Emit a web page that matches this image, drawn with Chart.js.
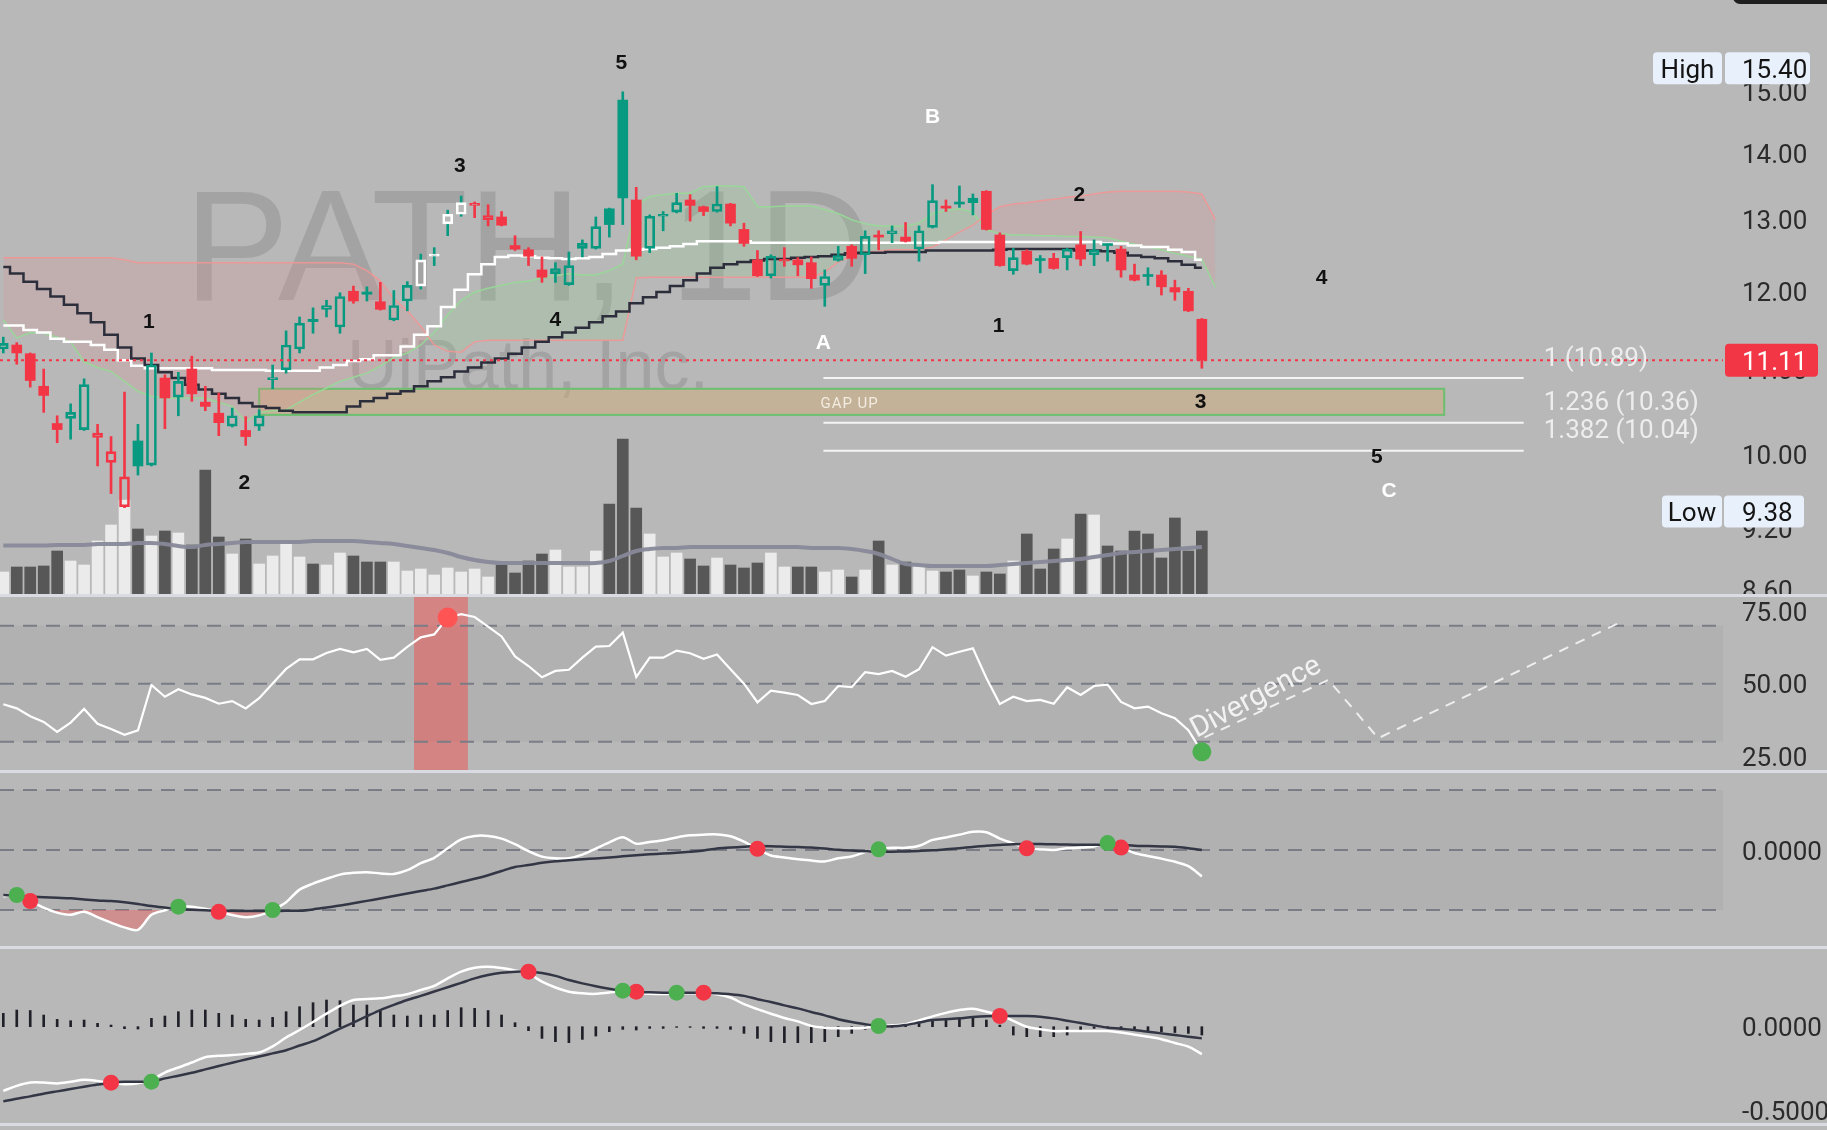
<!DOCTYPE html>
<html><head><meta charset="utf-8"><title>PATH, 1D</title>
<script src="https://cdn.jsdelivr.net/npm/chart.js@4.4.1/dist/chart.umd.min.js"></script>
<style>
html,body{margin:0;padding:0;background:#b8b8b8;}
body{width:1827px;height:1130px;position:relative;overflow:hidden;}
canvas{position:absolute;left:0;display:block;}
.sep{position:absolute;left:0;width:1827px;height:3px;background:#d9dae2;}
#corner{position:absolute;left:1733px;top:-20px;width:110px;height:24px;border-radius:7px;background:#1f1f1f;}
</style></head><body>
<canvas id="cMain" width="1827" height="594" style="top:0"></canvas>
<div class="sep" style="top:594px"></div>
<canvas id="cRsi" width="1827" height="173" style="top:597px"></canvas>
<div class="sep" style="top:770px"></div>
<canvas id="cOsc" width="1827" height="173" style="top:773px"></canvas>
<div class="sep" style="top:946px"></div>
<canvas id="cMacd" width="1827" height="174" style="top:949px"></canvas>
<div class="sep" style="top:1123px"></div>
<div id="corner"></div>
<script>
// ---------------- DATA ----------------
const opens = [11.25,11.30,11.19,10.79,10.35,10.41,10.28,10.19,9.91,9.43,
 10.15,9.88,10.89,10.66,11.00,10.60,10.47,10.32,10.27,10.32,
 10.87,10.99,11.25,11.63,11.76,11.53,12.00,11.99,11.86,11.62,
 11.87,12.07,12.48,12.94,13.08,13.21,13.00,13.04,12.63,12.57,
 12.29,12.24,12.09,12.59,12.59,13.16,14.86,13.29,12.59,13.05,
 13.11,13.29,13.19,13.12,13.23,12.86,12.43,12.21,12.41,12.43,
 12.39,12.08,12.42,12.62,12.50,12.77,12.80,12.75,12.58,12.89,
 13.19,13.25,13.25,13.42,12.78,12.28,12.55,12.44,12.45,12.46,
 12.64,12.50,12.65,12.58,12.22,12.22,12.22,12.05,12.00,11.63];
const highs = [11.40,11.33,11.20,11.00,10.44,10.58,10.88,10.34,10.20,10.72,
 10.34,11.20,10.93,10.96,11.16,10.79,10.71,10.53,10.43,10.51,
 11.05,11.48,11.66,11.78,11.88,11.98,12.07,12.06,12.12,12.01,
 12.13,12.51,12.60,13.14,13.35,13.26,13.22,13.12,12.77,12.60,
 12.47,12.39,12.54,12.71,13.04,13.17,15.00,13.48,13.07,13.12,
 13.39,13.37,13.20,13.49,13.24,12.95,12.56,12.50,12.60,12.46,
 12.47,12.29,12.62,12.64,12.84,12.84,12.91,12.96,12.91,13.52,
 13.29,13.50,13.38,13.43,12.81,12.59,12.57,12.49,12.52,12.59,
 12.83,12.71,12.65,12.62,12.37,12.32,12.28,12.15,12.04,11.64];
const lows = [11.20,11.06,10.78,10.48,10.13,10.17,10.27,9.87,9.57,9.42,
 9.77,9.87,10.29,10.44,10.61,10.50,10.21,10.31,10.10,10.27,
 10.76,10.95,11.20,11.45,11.66,11.45,11.84,11.87,11.75,11.61,
 11.74,12.03,12.35,12.77,13.05,13.03,12.91,12.91,12.56,12.35,
 12.12,12.12,12.08,12.47,12.58,12.75,12.93,12.43,12.53,12.84,
 13.10,12.98,13.06,13.11,12.91,12.62,12.20,12.18,12.34,12.21,
 12.04,11.80,12.41,12.34,12.24,12.57,12.67,12.68,12.41,12.88,
 13.12,13.18,13.07,12.85,12.34,12.23,12.36,12.25,12.30,12.29,
 12.35,12.35,12.41,12.19,12.14,12.08,11.95,11.88,11.73,11.01];
const closes = [11.32,11.20,10.86,10.68,10.28,10.48,10.81,10.24,10.03,9.75,
 9.87,11.05,10.65,10.85,10.70,10.55,10.36,10.44,10.20,10.44,
 10.89,11.30,11.58,11.60,11.81,11.93,11.87,11.96,11.76,11.81,
 12.08,12.43,12.51,13.08,13.25,13.23,13.06,12.92,12.58,12.48,
 12.19,12.31,12.35,12.66,12.90,12.93,13.32,12.48,13.05,13.07,
 13.25,13.21,13.12,13.23,12.95,12.66,12.21,12.48,12.43,12.36,
 12.17,12.20,12.49,12.45,12.76,12.75,12.84,12.69,12.84,13.28,
 13.17,13.23,13.32,12.86,12.35,12.46,12.37,12.42,12.31,12.58,
 12.44,12.57,12.63,12.29,12.15,12.20,12.06,11.99,11.74,11.11];
const volumes = [2.2,2.7,2.7,2.8,4.3,3.3,2.9,5.3,6.9,9.4,
 6.5,5.8,6.3,6.1,4.9,12.4,5.7,4.0,5.5,3.0,
 3.8,5.1,3.7,3.0,2.9,4.1,3.8,3.2,3.2,3.2,
 2.3,2.5,1.9,2.6,2.2,2.5,1.7,2.9,2.1,3.3,
 4.0,4.4,2.7,2.7,4.3,9.0,15.5,8.6,6.0,3.7,
 4.1,3.5,2.8,3.6,2.9,2.6,3.1,4.1,2.7,2.7,
 2.7,2.2,2.4,1.7,2.4,5.3,2.9,3.2,2.8,2.3,
 2.2,2.4,1.8,2.2,2.0,3.3,6.0,2.5,4.5,5.5,
 8.0,7.9,4.8,4.3,6.3,6.0,3.6,7.6,4.3,6.3];
const volumeMA = [4.85,4.85,4.85,4.85,4.9,4.9,4.9,5.0,5.0,5.0,
 5.1,5.1,5.0,4.8,4.7,4.9,5.0,5.1,5.2,5.2,
 5.2,5.2,5.2,5.3,5.3,5.3,5.3,5.2,5.1,5.0,
 4.8,4.6,4.4,4.1,3.7,3.4,3.2,3.1,3.1,3.1,
 3.1,3.1,3.1,3.1,3.1,3.3,3.8,4.3,4.5,4.6,
 4.6,4.7,4.7,4.7,4.7,4.7,4.7,4.7,4.7,4.7,
 4.6,4.6,4.6,4.5,4.3,4.0,3.5,3.0,2.9,2.8,
 2.8,2.8,2.8,2.8,2.9,3.0,3.1,3.2,3.3,3.4,
 3.5,3.7,3.9,4.1,4.2,4.3,4.4,4.5,4.6,4.7];
const spanA = [11.62,11.39,11.46,11.45,11.40,11.34,11.09,11.02,10.97,10.85,
 10.73,10.67,10.65,10.65,10.65,10.65,10.60,10.55,10.37,10.48,
 10.50,10.51,10.60,10.69,10.77,10.85,10.90,10.95,11.04,11.14,
 11.20,11.30,11.46,11.69,11.88,11.99,12.04,12.08,12.12,12.14,
 12.18,12.21,12.24,12.22,12.22,12.28,12.37,13.22,13.34,13.37,
 13.39,13.39,13.49,13.50,13.50,13.49,13.19,13.19,13.20,13.20,
 13.20,13.15,13.09,13.00,12.94,12.91,12.91,12.91,12.95,13.09,
 13.14,13.16,13.11,12.85,12.80,12.78,12.78,12.77,12.77,12.76,
 12.76,12.75,12.74,12.69,12.65,12.61,12.57,12.52,12.48,12.44,
 12.06];
const spanB = [12.46,12.46,12.46,12.46,12.46,12.46,12.46,12.46,12.46,12.43,
 12.39,12.39,12.39,12.39,12.39,12.39,12.39,12.39,12.39,12.39,
 12.39,12.39,12.39,12.39,12.39,12.39,12.37,12.28,12.14,11.90,
 11.74,11.54,11.30,11.22,11.21,11.34,11.36,11.36,11.36,11.36,
 11.36,11.36,11.36,11.36,11.36,11.36,11.36,12.18,12.19,12.19,
 12.19,12.19,12.19,12.19,12.19,12.19,12.19,12.19,12.19,12.19,
 12.19,12.26,12.40,12.48,12.54,12.55,12.57,12.57,12.57,12.61,
 12.71,12.82,12.92,13.07,13.19,13.23,13.25,13.28,13.30,13.33,
 13.35,13.38,13.41,13.42,13.42,13.42,13.42,13.42,13.41,13.38,
 13.00];
const tenkan = [11.55,11.55,11.49,11.46,11.38,11.34,11.34,11.30,11.24,11.11,
 11.04,11.01,11.01,11.01,11.01,11.01,10.99,10.99,10.99,10.99,
 10.98,10.98,10.98,10.98,11.02,11.05,11.10,11.12,11.17,11.17,
 11.28,11.43,11.54,11.79,12.02,12.23,12.37,12.47,12.49,12.48,
 12.46,12.45,12.44,12.45,12.47,12.51,12.56,12.57,12.58,12.60,
 12.62,12.65,12.69,12.69,12.69,12.69,12.67,12.67,12.67,12.67,
 12.67,12.67,12.67,12.67,12.67,12.67,12.67,12.67,12.67,12.67,
 12.68,12.68,12.68,12.68,12.68,12.68,12.68,12.68,12.68,12.68,
 12.68,12.68,12.66,12.66,12.63,12.61,12.61,12.57,12.54,12.43];
const kijun = [12.33,12.24,12.13,12.03,11.93,11.82,11.71,11.59,11.43,11.27,
 11.13,11.05,10.96,10.89,10.81,10.75,10.70,10.65,10.59,10.55,
 10.53,10.50,10.48,10.48,10.48,10.48,10.55,10.61,10.65,10.70,
 10.73,10.79,10.85,10.90,10.97,11.02,11.08,11.13,11.19,11.27,
 11.34,11.40,11.46,11.52,11.59,11.67,11.73,11.84,11.92,11.99,
 12.07,12.15,12.24,12.32,12.37,12.40,12.42,12.44,12.44,12.46,
 12.47,12.48,12.50,12.52,12.53,12.53,12.54,12.54,12.54,12.56,
 12.56,12.56,12.56,12.56,12.57,12.58,12.58,12.58,12.58,12.58,
 12.56,12.56,12.55,12.53,12.49,12.47,12.45,12.41,12.36,12.32];
const whiteCandles = [31,32,33,34];
const priceTicks = [8.6,9.2,10,11,12,13,14,15];
const rangeHigh = 15.40, rangeLow = 9.38;
const gapHigh = 10.76, gapLow = 10.45;
const fibRatios = ['1','1.236','1.382'];
const fibLevels = [10.89,10.36,10.04];
const waveLabels = [
 ['1',10.8,11.63],['2',17.9,9.71],['3',33.9,13.84],['4',41.0,11.65],['5',45.9,15.53],
 ['A',60.9,11.35],['B',69.0,14.62],['1',73.9,11.57],['2',79.9,13.40],['3',88.9,10.63],
 ['4',97.9,12.21],['5',102.0,9.99],['C',102.9,9.62]];

const rsi = [42.9,41.5,38.8,36.8,33.4,36.6,41.3,36.2,34.4,32.4,
 33.9,49.6,45.5,48.1,46.3,45.1,43.1,44.0,41.5,45.0,
 50.1,55.1,58.4,58.4,60.6,62.0,60.8,62.0,58.2,59.0,
 62.7,66.0,67.0,72.8,74.0,73.0,69.7,66.3,59.4,56.1,
 52.2,54.4,54.8,59.0,62.8,63.0,67.6,52.3,59.0,59.0,
 61.4,60.5,58.6,60.1,55.0,50.0,43.6,47.6,46.9,46.1,
 43.0,44.0,49.2,48.8,54.0,53.3,54.4,52.4,55.0,62.6,
 59.7,61.0,62.2,52.0,43.0,45.5,44.0,44.4,43.1,48.8,
 46.1,49.2,49.7,43.7,41.5,42.1,39.8,38.1,34.0,26.5];
const rsiTicks = [25,50,75];
const rsiLevels = [30,50,70];
const rsiZone = [31,34];
const rsiSellIdx = [33];
const rsiBuyIdx = [89];
const divX = [89.2,98.4,102.1,119.9];
const divY = [31.5,51.3,31.2,70.8];

const oscFast = [-0.386,-0.375,-0.425,-0.48,-0.522,-0.54,-0.515,-0.56,-0.605,-0.645,
 -0.665,-0.54,-0.502,-0.472,-0.472,-0.49,-0.515,-0.542,-0.56,-0.545,
 -0.5,-0.435,-0.33,-0.28,-0.24,-0.205,-0.19,-0.185,-0.195,-0.2,
 -0.168,-0.11,-0.065,0.014,0.088,0.117,0.117,0.095,0.048,-0.01,
 -0.055,-0.069,-0.068,-0.038,0.012,0.063,0.106,0.052,0.067,0.082,
 0.105,0.122,0.128,0.13,0.115,0.07,0.01,-0.046,-0.062,-0.078,
 -0.088,-0.095,-0.069,-0.054,-0.018,0.006,0.018,0.018,0.035,0.084,
 0.105,0.128,0.152,0.148,0.095,0.055,0.014,0.005,0.0,0.014,
 0.02,0.03,0.058,0.02,-0.025,-0.05,-0.072,-0.098,-0.135,-0.22];
const oscSlow = [-0.376,-0.38,-0.389,-0.393,-0.398,-0.403,-0.412,-0.42,-0.426,-0.436,
 -0.45,-0.467,-0.48,-0.492,-0.498,-0.502,-0.506,-0.507,-0.508,-0.508,
 -0.508,-0.507,-0.506,-0.495,-0.479,-0.463,-0.444,-0.424,-0.404,-0.384,
 -0.363,-0.342,-0.322,-0.295,-0.267,-0.24,-0.21,-0.175,-0.142,-0.125,
 -0.107,-0.094,-0.085,-0.077,-0.07,-0.062,-0.053,-0.044,-0.036,-0.03,
 -0.023,-0.014,-0.004,0.013,0.02,0.027,0.033,0.032,0.028,0.024,
 0.02,0.012,0.002,-0.005,-0.01,-0.014,-0.014,-0.012,-0.008,-0.003,
 0.006,0.015,0.025,0.035,0.042,0.048,0.05,0.049,0.047,0.045,
 0.043,0.043,0.045,0.044,0.036,0.033,0.03,0.027,0.015,0.0];
const oscTicks = [0];
const oscLevels = [0.5,0,-0.5];
const oscBuyIdx = [1,13,20,65,82];
const oscSellIdx = [2,16,56,76,83];

const macd = [-0.385,-0.355,-0.335,-0.335,-0.34,-0.33,-0.318,-0.325,-0.338,-0.345,
 -0.34,-0.318,-0.275,-0.245,-0.215,-0.183,-0.175,-0.17,-0.163,-0.155,
 -0.118,-0.065,-0.02,0.028,0.078,0.125,0.16,0.166,0.17,0.182,
 0.195,0.22,0.245,0.29,0.33,0.354,0.36,0.352,0.338,0.318,
 0.27,0.235,0.21,0.2,0.197,0.205,0.212,0.204,0.198,0.196,
 0.2,0.2,0.2,0.194,0.175,0.135,0.105,0.078,0.052,0.032,
 0.005,-0.006,-0.01,-0.01,-0.006,0.004,0.008,0.015,0.038,0.062,
 0.083,0.1,0.108,0.09,0.07,0.035,0.0,-0.015,-0.026,-0.026,
 -0.026,-0.026,-0.026,-0.035,-0.048,-0.06,-0.075,-0.098,-0.12,-0.164];
const signal = [-0.448,-0.432,-0.418,-0.402,-0.388,-0.374,-0.36,-0.347,-0.336,-0.33,
 -0.33,-0.33,-0.31,-0.294,-0.276,-0.256,-0.236,-0.216,-0.197,-0.179,
 -0.16,-0.141,-0.113,-0.087,-0.05,-0.012,0.025,0.063,0.1,0.131,
 0.16,0.185,0.211,0.237,0.263,0.29,0.31,0.323,0.33,0.33,
 0.322,0.305,0.28,0.26,0.243,0.228,0.216,0.21,0.206,0.204,
 0.204,0.204,0.204,0.2,0.195,0.185,0.165,0.148,0.128,0.11,
 0.088,0.068,0.045,0.028,0.015,0.004,0.002,0.01,0.025,0.04,
 0.044,0.05,0.058,0.063,0.064,0.064,0.064,0.06,0.05,0.036,
 0.022,0.008,-0.006,-0.012,-0.02,-0.03,-0.04,-0.05,-0.06,-0.07];
const hist = [0.08,0.1,0.097,0.07,0.044,0.036,0.04,0.02,0.01,-0.012,
 -0.014,0.05,0.064,0.09,0.1,0.1,0.08,0.07,0.044,0.04,
 0.056,0.09,0.12,0.144,0.16,0.156,0.13,0.13,0.1,0.07,
 0.064,0.07,0.07,0.097,0.114,0.11,0.097,0.07,0.024,-0.024,
 -0.07,-0.09,-0.096,-0.076,-0.056,-0.03,-0.016,-0.02,-0.01,-0.01,
 -0.004,-0.004,-0.01,-0.01,-0.016,-0.04,-0.07,-0.09,-0.096,-0.096,
 -0.096,-0.09,-0.06,-0.04,-0.016,-0.01,-0.004,0.01,0.02,0.04,
 0.047,0.05,0.053,0.04,0.01,-0.05,-0.06,-0.06,-0.06,-0.05,
 -0.02,-0.01,-0.004,-0.016,-0.024,-0.03,-0.03,-0.035,-0.04,-0.05];
const macdTicks = [0,-0.5];
const macdBuyIdx = [11,46,50,65];
const macdSellIdx = [8,39,47,52,74];

// ---------------- SETUP ----------------
Chart.defaults.font.family = 'Roboto';
const N = closes.length;
const idx = [...Array(N).keys()];
const TEAL = '#089981', RED = '#f23645', GREEN_DOT = '#4caf50';
const X_MIN = -0.245, X_MAX = 127.7;
const TXT_DY = 3; // visual centring of canvas text
const AX_FONT = 26;
const pts = (arr) => arr.map((v,i)=>({x:i,y:v}));

const candleColor = idx.map(i => (i===0 ? closes[i]>=opens[i] : closes[i]>=closes[i-1]) ? TEAL : RED);
const filled = idx.map(i => closes[i] < opens[i]);
const bodyStroke = idx.map(i => whiteCandles.includes(i) ? '#ffffff' : candleColor[i]);
const bodyFill = idx.map(i => filled[i] ? bodyStroke[i] : 'rgba(0,0,0,0)');
const bodyBW = idx.map(i => filled[i] ? 0 : 2);
const volColor = idx.map(i => filled[i] ? '#575757' : '#ebebeb');

function xScale(){ return {type:'linear', min:X_MIN, max:X_MAX, offset:false, display:false, bounds:'data'}; }
function rightAxis(type, min, max, ticks, digits){
  return {type, position:'right', min, max, bounds:'data',
    grid:{display:false, drawTicks:false}, border:{display:false},
    ticks:{color:'#2b2b2b', font:{family:'Roboto', size:AX_FONT}, padding:19, autoSkip:false, labelOffset:TXT_DY,
      callback:(v)=>Number(v).toFixed(digits)},
    afterBuildTicks:(s)=>{ s.ticks = ticks.map(v=>({value:v})); },
    afterFit:(s)=>{ s.width = 104; s.paddingTop=0; s.paddingBottom=0; s.paddingLeft=0; s.paddingRight=0; }};
}
function baseOptions(scales){
  return {responsive:false, animation:false, devicePixelRatio:1, events:[],
    layout:{padding:0, autoPadding:false}, scales,
    plugins:{legend:{display:false}, tooltip:{enabled:false}}};
}
function dashedLines(ctx, a, ys){
  ctx.save(); ctx.setLineDash([14,9]); ctx.strokeStyle='#7a7c86'; ctx.lineWidth=2;
  ys.forEach(yy=>{ ctx.beginPath(); ctx.moveTo(a.left,yy); ctx.lineTo(a.right,yy); ctx.stroke(); });
  ctx.restore();
}
function rr(ctx,x,y,w,h,r){ctx.beginPath();ctx.moveTo(x+r,y);ctx.arcTo(x+w,y,x+w,y+h,r);ctx.arcTo(x+w,y+h,x,y+h,r);ctx.arcTo(x,y+h,x,y,r);ctx.arcTo(x,y,x+w,y,r);ctx.closePath();}
function tag(ctx, lx0, lx1, vx0, vx1, cy, label, value){
  const h=32;
  ctx.fillStyle='#e8f0fb';
  rr(ctx,lx0,cy-h/2,lx1-lx0,h,4); ctx.fill();
  rr(ctx,vx0,cy-h/2,vx1-vx0,h,4); ctx.fill();
  ctx.fillStyle='#141414'; ctx.font=AX_FONT+'px Roboto'; ctx.textBaseline='middle';
  ctx.textAlign='center'; ctx.fillText(label,(lx0+lx1)/2,cy+TXT_DY);
  ctx.textAlign='left'; ctx.fillText(value,1742,cy+TXT_DY);
}

// ---------------- MAIN PRICE CHART ----------------
const fibStart = 60.9, fibEnd = 112.9, gapStart = 19.0, gapEnd = 107.0;
const mainDecor = {
  id:'mainDecor',
  beforeDatasetsDraw(chart){
    const {ctx, chartArea:a, scales:{x,y}} = chart;
    ctx.save();
    ctx.fillStyle='rgba(110,110,110,0.28)';
    ctx.textAlign='left'; ctx.textBaseline='alphabetic';
    ctx.font='158px "Liberation Sans", Arial, sans-serif';
    ctx.fillText('PATH, 1D', 184, 300);
    ctx.font='70px "Liberation Sans", Arial, sans-serif';
    ctx.fillText('UiPath, Inc.', 347, 389);
    const gx0=x.getPixelForValue(gapStart), gx1=x.getPixelForValue(gapEnd);
    const gy0=y.getPixelForValue(gapHigh), gy1=y.getPixelForValue(gapLow);
    ctx.fillStyle='rgba(205,172,120,0.5)'; ctx.fillRect(gx0,gy0,gx1-gx0,gy1-gy0);
    ctx.strokeStyle='#6cbf6f'; ctx.lineWidth=2; ctx.strokeRect(gx0,gy0,gx1-gx0,gy1-gy0);
    ctx.fillStyle='#f3ece0'; ctx.font='15px Roboto'; ctx.textBaseline='middle';
    try{ ctx.letterSpacing='1px'; }catch(e){}
    ctx.fillText('GAP UP', x.getPixelForValue(fibStart)-3, (gy0+gy1)/2+2);
    ctx.restore();
  },
  afterDatasetsDraw(chart){
    const {ctx, chartArea:a, scales:{x,y}} = chart;
    ctx.save();
    const last = closes[N-1];
    const ly = y.getPixelForValue(last);
    ctx.setLineDash([3,4]); ctx.strokeStyle=RED; ctx.lineWidth=2;
    ctx.beginPath(); ctx.moveTo(a.left,ly); ctx.lineTo(a.right,ly); ctx.stroke();
    ctx.setLineDash([]);
    const fx0=x.getPixelForValue(fibStart), fx1=x.getPixelForValue(fibEnd);
    fibLevels.forEach((lv,k)=>{
      const fy=y.getPixelForValue(lv);
      ctx.strokeStyle='#f4f4f4'; ctx.lineWidth=2;
      ctx.beginPath(); ctx.moveTo(fx0,fy); ctx.lineTo(fx1,fy); ctx.stroke();
      ctx.fillStyle='#ededed'; ctx.font='26px Roboto'; ctx.textAlign='left'; ctx.textBaseline='middle';
      ctx.fillText(fibRatios[k]+' ('+lv.toFixed(2)+')', fx1+20, fy-22+TXT_DY);
    });
    ctx.font='bold 21px "Liberation Sans", Arial, sans-serif'; ctx.textAlign='center'; ctx.textBaseline='middle';
    waveLabels.forEach(([t,i,p])=>{
      ctx.fillStyle = /[A-Z]/.test(t) ? '#ffffff' : '#111111';
      ctx.fillText(t, x.getPixelForValue(i), y.getPixelForValue(p)+2.5);
    });
    ctx.restore();
  },
  afterDraw(chart){
    const {ctx, scales:{y}} = chart;
    ctx.save();
    tag(ctx,1653,1722,1725,1810,y.getPixelForValue(rangeHigh),'High',rangeHigh.toFixed(2));
    tag(ctx,1662,1722,1724,1804,y.getPixelForValue(rangeLow),'Low',rangeLow.toFixed(2));
    const cy=y.getPixelForValue(closes[N-1]);
    ctx.fillStyle=RED; rr(ctx,1725,cy-16.5,93,33,4); ctx.fill();
    ctx.fillStyle='#ffffff'; ctx.font=AX_FONT+'px Roboto'; ctx.textAlign='left'; ctx.textBaseline='middle';
    ctx.fillText(closes[N-1].toFixed(2),1742,cy+TXT_DY);
    ctx.restore();
  }
};

new Chart(document.getElementById('cMain'), {
  type:'line',
  data:{datasets:[
    {type:'bar', yAxisID:'yv', data:pts(volumes), backgroundColor:volColor, barThickness:11, grouped:false, order:20, borderWidth:0},
    {type:'line', yAxisID:'yv', data:pts(volumeMA), borderColor:'rgba(136,137,153,0.95)', borderWidth:4, pointRadius:0, tension:0.4, order:19},
    {type:'line', yAxisID:'y', data:pts(spanA), borderColor:'rgba(150,218,150,0.9)', borderWidth:1.5, pointRadius:0,
      fill:{target:'+1', above:'rgba(140,210,140,0.2)', below:'rgba(230,140,140,0.2)'}, order:15},
    {type:'line', yAxisID:'y', data:pts(spanB), borderColor:'rgba(242,150,150,0.9)', borderWidth:1.5, pointRadius:0, order:14},
    {type:'line', yAxisID:'y', data:pts(tenkan), borderColor:'#ffffff', borderWidth:2.5, pointRadius:0, stepped:'middle', order:10},
    {type:'line', yAxisID:'y', data:pts(kijun), borderColor:'#2c2f3b', borderWidth:2.5, pointRadius:0, stepped:'middle', order:9},
    {type:'bar', yAxisID:'y', data:idx.map(i=>({x:i,y:[lows[i],Math.min(opens[i],closes[i])]})), backgroundColor:candleColor, barThickness:2, grouped:false, order:3, borderWidth:0},
    {type:'bar', yAxisID:'y', data:idx.map(i=>({x:i,y:[Math.max(opens[i],closes[i]),highs[i]]})), backgroundColor:candleColor, barThickness:2, grouped:false, order:3, borderWidth:0},
    {type:'bar', yAxisID:'y', data:idx.map(i=>({x:i,y:[opens[i],closes[i]]})), backgroundColor:bodyFill, borderColor:bodyStroke, borderWidth:bodyBW,
      borderSkipped:false, barThickness:10, minBarLength:2, grouped:false, order:2}
  ]},
  options:baseOptions({
    x:xScale(),
    y:rightAxis('logarithmic', 8.553, 16.622, priceTicks, 2),
    yv:{type:'linear', display:false, min:0, max:59.4}
  }),
  plugins:[mainDecor]
});

// ---------------- RSI ----------------
const rsiDecor = {
  id:'rsiDecor',
  beforeDatasetsDraw(chart){
    const {ctx, chartArea:a, scales:{x,y}} = chart;
    ctx.save();
    const yt=y.getPixelForValue(rsiLevels[2]), yb=y.getPixelForValue(rsiLevels[0]);
    ctx.fillStyle='rgba(90,90,100,0.07)'; ctx.fillRect(a.left,yt,a.right-a.left,yb-yt);
    const zx0=x.getPixelForValue(rsiZone[0]-0.5), zx1=x.getPixelForValue(rsiZone[1]+0.5);
    ctx.fillStyle='rgba(242,80,80,0.5)'; ctx.fillRect(zx0,a.top,zx1-zx0,a.bottom-a.top);
    ctx.restore();
    dashedLines(ctx,a,rsiLevels.map(v=>y.getPixelForValue(v)));
  },
  afterDatasetsDraw(chart){
    const {ctx, scales:{x,y}} = chart;
    ctx.save();
    ctx.translate(x.getPixelForValue(88.6), y.getPixelForValue(31.3));
    ctx.rotate(-28*Math.PI/180);
    ctx.fillStyle='#f2f2f2'; ctx.font='29px Roboto'; ctx.textAlign='left'; ctx.textBaseline='alphabetic';
    ctx.fillText('Divergence',0,0);
    ctx.restore();
  }
};
new Chart(document.getElementById('cRsi'), {
  type:'line',
  data:{datasets:[
    {data:pts(rsi), borderColor:'#ffffff', borderWidth:2.2, pointRadius:0, tension:0, order:3},
    {data:divX.map((v,k)=>({x:v,y:divY[k]})), borderColor:'#eeeeee', borderWidth:2, borderDash:[10,8], pointRadius:0, order:4},
    {data:rsiSellIdx.map(i=>({x:i,y:rsi[i]})), showLine:false, pointRadius:10, pointBackgroundColor:'#ff5454', pointBorderWidth:0, order:1},
    {data:rsiBuyIdx.map(i=>({x:i,y:rsi[i]})), showLine:false, pointRadius:9.5, pointBackgroundColor:GREEN_DOT, pointBorderWidth:0, order:1}
  ]},
  options:baseOptions({x:xScale(), y:rightAxis('linear', 20.24, 79.9, rsiTicks, 2)}),
  plugins:[rsiDecor]
});

// ---------------- OSCILLATOR ----------------
const oscDecor = {
  id:'oscDecor',
  beforeDatasetsDraw(chart){
    const {ctx, chartArea:a, scales:{y}} = chart;
    ctx.save();
    const yt=y.getPixelForValue(oscLevels[0]), yb=y.getPixelForValue(oscLevels[2]);
    ctx.fillStyle='rgba(90,90,100,0.07)'; ctx.fillRect(a.left,yt,a.right-a.left,yb-yt);
    ctx.restore();
    dashedLines(ctx,a,oscLevels.map(v=>y.getPixelForValue(v)));
  }
};
new Chart(document.getElementById('cOsc'), {
  type:'line',
  data:{datasets:[
    {data:pts(oscFast), borderColor:'#ffffff', borderWidth:2.5, pointRadius:0, tension:0.3,
      fill:{target:{value:oscLevels[2]}, above:'rgba(0,0,0,0)', below:'rgba(228,110,110,0.55)'}, order:3},
    {data:pts(oscSlow), borderColor:'#333644', borderWidth:2.5, pointRadius:0, tension:0.3, order:2},
    {data:oscBuyIdx.map(i=>({x:i,y:oscFast[i]})), showLine:false, pointRadius:8, pointBackgroundColor:GREEN_DOT, pointBorderWidth:0, order:1},
    {data:oscSellIdx.map(i=>({x:i,y:oscFast[i]})), showLine:false, pointRadius:8, pointBackgroundColor:RED, pointBorderWidth:0, order:1}
  ]},
  options:baseOptions({x:xScale(), y:rightAxis('linear', -0.8, 0.6417, oscTicks, 4)}),
  plugins:[oscDecor]
});

// ---------------- MACD ----------------
new Chart(document.getElementById('cMacd'), {
  type:'line',
  data:{datasets:[
    {type:'bar', data:pts(hist), backgroundColor:'#1f2028', barThickness:2, grouped:false, borderWidth:0, order:5},
    {data:pts(macd), borderColor:'#ffffff', borderWidth:2.5, pointRadius:0, tension:0.3, order:3},
    {data:pts(signal), borderColor:'#333644', borderWidth:2.5, pointRadius:0, tension:0.3, order:2},
    {data:macdBuyIdx.map(i=>({x:i,y:signal[i]})), showLine:false, pointRadius:8, pointBackgroundColor:GREEN_DOT, pointBorderWidth:0, order:1},
    {data:macdSellIdx.map(i=>({x:i,y:signal[i]})), showLine:false, pointRadius:8, pointBackgroundColor:RED, pointBorderWidth:0, order:1}
  ]},
  options:baseOptions({x:xScale(), y:rightAxis('linear', -0.5777, 0.4661, macdTicks, 4)})
});
</script></body></html>
